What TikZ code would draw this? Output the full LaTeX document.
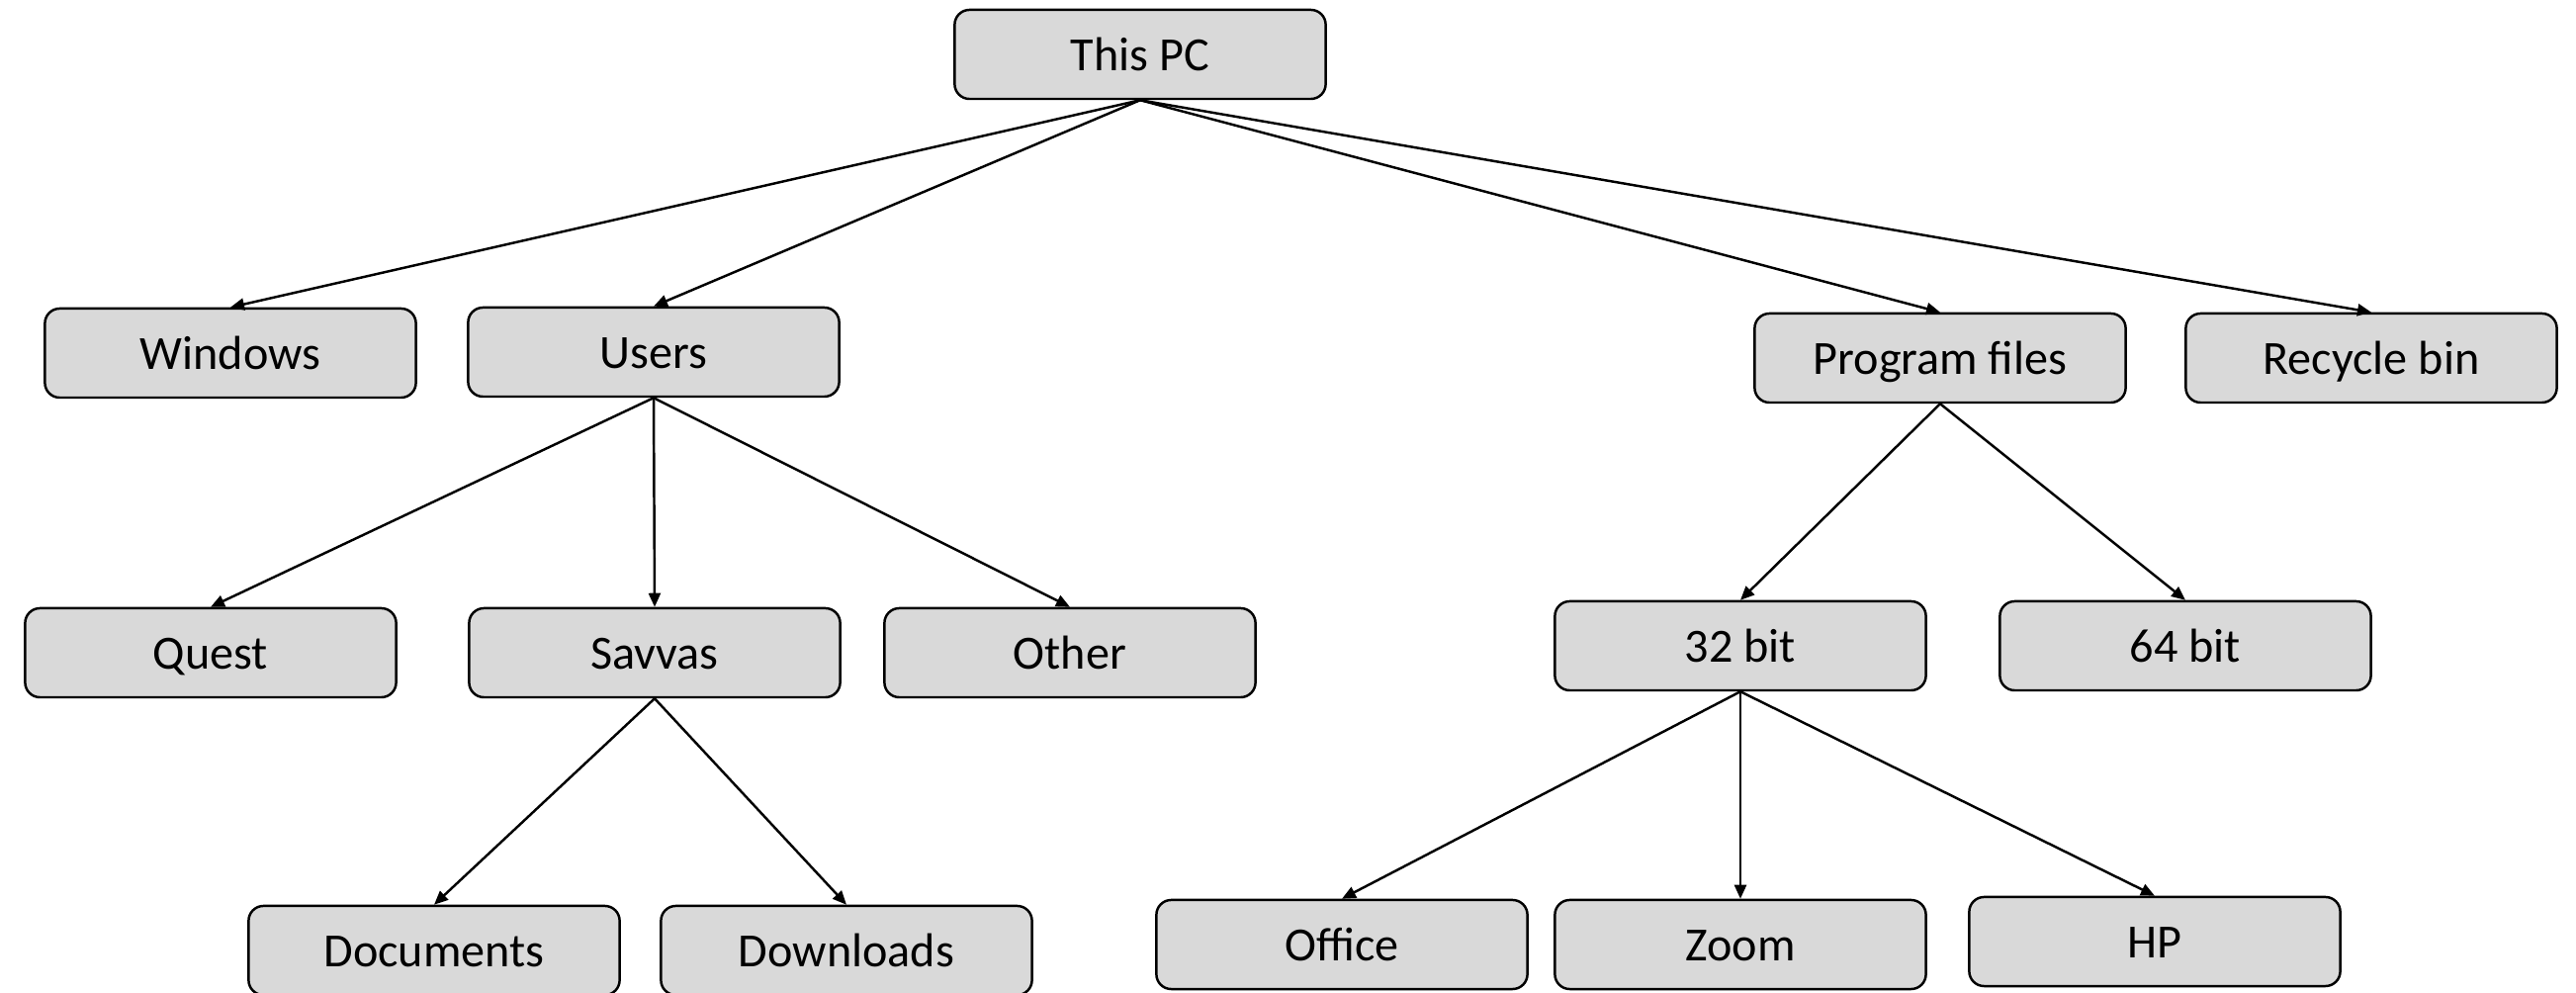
\documentclass[tikz,border=0pt]{standalone}
\usepackage{fontspec}
\setmainfont{Carlito}
\usetikzlibrary{arrows.meta}
\begin{document}
\begin{tikzpicture}[x=0.01cm,y=-0.01cm,
  folder/.style={draw=black, line width=0.7pt, fill=boxgray, rounded corners=0.15cm,
    minimum width=3.75cm, minimum height=0.9cm, inner sep=0pt,
    text height=0.36cm, text depth=0.03cm,
    font=\fontsize{13.7}{16}\selectfont},
  link/.style={line width=0.7pt, -{Triangle[length=0.14cm,width=0.12cm]}}]
\definecolor{boxgray}{HTML}{D9D9D9}
\useasboundingbox (0,0) rectangle (2605,1004);
% folder nodes
\node[folder] (pc) at (1153,55) {This PC};
\node[folder] (win) at (233,357) {Windows};
\node[folder] (users) at (661,356) {Users};
\node[folder] (prog) at (1962,362) {Program files};
\node[folder] (bin) at (2398,362) {Recycle bin};
\node[folder] (quest) at (213,660) {Quest};
\node[folder] (savvas) at (662,660) {Savvas};
\node[folder] (other) at (1082,660) {Other};
\node[folder] (b32) at (1760,653) {32 bit};
\node[folder] (b64) at (2210,653) {64 bit};
\node[folder] (docs) at (439,961) {Documents};
\node[folder] (downs) at (856,961) {Downloads};
\node[folder] (office) at (1357,955) {Office};
\node[folder] (zoom) at (1760,955) {Zoom};
\node[folder] (hp) at (2179,952) {HP};
% tree connections
\foreach \a/\b in {pc/win, pc/users, pc/prog, pc/bin,
                   users/quest, users/savvas, users/other,
                   savvas/docs, savvas/downs,
                   prog/b32, prog/b64,
                   b32/office, b32/zoom, b32/hp}
  \draw[link] (\a.south) -- (\b.north);
\end{tikzpicture}
\end{document}
